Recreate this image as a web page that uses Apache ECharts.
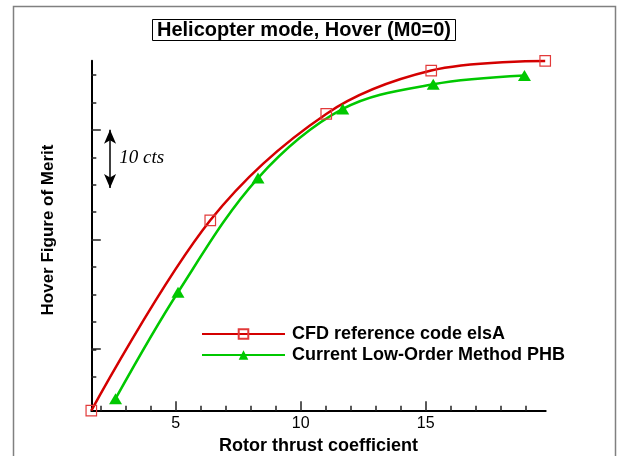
<!DOCTYPE html>
<html>
<head>
<meta charset="utf-8">
<script src="https://cdn.jsdelivr.net/npm/echarts@6/dist/echarts.min.js"></script>
<style>
  html, body { margin: 0; padding: 0; background: #fff; }
  #chart { width: 619px; height: 456px; }
</style>
</head>
<body>
<div id="chart"></div>
<script>
// rotor thrust coefficient (x) and hover figure of merit in counts (y)
const cfdThrust = [1.62, 6.38, 11.02, 15.22, 19.78];
const cfdMerit = [8.8, 43.5, 62.9, 70.8, 72.55];
const phbThrust = [2.59, 5.09, 8.29, 11.68, 15.30, 18.95];
const phbMerit = [11.0, 30.4, 51.2, 63.8, 68.3, 69.9];

const xTickLabels = ['5', '10', '15'];
const seriesNames = ['CFD reference code elsA', 'Current Low-Order Method PHB'];

// 10 cts arrow
const arrowX = 2.37;
const arrowFrom = 49.4;
const arrowTo = 60;

const sans = "'Liberation Sans', Arial, sans-serif";
const pair = (xs, ys) => xs.map((x, i) => [x, ys[i]]);

const chart = echarts.init(document.getElementById('chart'));

const tickX = (grid, min, max, interval, len, labels) => ({
  type: 'value', gridIndex: grid, min: min, max: max, interval: interval,
  axisLine: { show: false },
  splitLine: { show: false },
  axisTick: { show: true, inside: true, length: len, lineStyle: { color: '#222', width: 1.5 } },
  axisLabel: labels ? {
    show: true, margin: 5, color: '#000', fontSize: 16, fontFamily: sans,
    formatter: (v) => xTickLabels.indexOf(String(v)) >= 0 ? String(v) : ''
  } : { show: false }
});

const tickY = (grid, min, max, interval, len) => ({
  type: 'value', gridIndex: grid, min: min, max: max, interval: interval,
  axisLine: { show: false },
  splitLine: { show: false },
  axisTick: { show: true, inside: true, length: len, lineStyle: { color: '#222', width: 1.5 } },
  axisLabel: { show: false }
});

const hidden = (grid) => ({ type: 'value', gridIndex: grid, show: false, min: 0, max: 1 });

const gridBox = (left, right, top, bottom) => ({
  left: left, right: right, top: top, bottom: bottom,
  containLabel: false, outerBoundsMode: 'none'
});

chart.setOption({
  animation: false,
  backgroundColor: '#fff',
  title: {
    text: 'Helicopter mode, Hover (M0=0)',
    left: 152, top: 19,
    padding: [1, 5, 1, 5],
    borderColor: '#000', borderWidth: 1,
    textStyle: { fontFamily: sans, fontSize: 20, fontWeight: 'bold', color: '#000' }
  },
  legend: {
    orient: 'vertical',
    left: 196, top: 320,
    itemWidth: 83, itemHeight: 12, itemGap: 3,
    textStyle: { fontFamily: sans, fontSize: 18, fontWeight: 'bold', color: '#000',
                 padding: [0, 0, 0, 2] },
    data: seriesNames
  },
  graphic: [
    { type: 'rect', shape: { x: 13.5, y: 6.5, width: 602, height: 460 },
      style: { fill: 'none', stroke: '#808080', lineWidth: 1.5 }, silent: true },
    { type: 'text', x: 48, y: 230, rotation: Math.PI / 2,
      style: { text: 'Hover Figure of Merit', fontFamily: sans, fontSize: 17, fontWeight: 'bold',
               fill: '#000', align: 'center', verticalAlign: 'middle' } }
  ],
  grid: [
    gridBox(91.3, 73.3, 60.7, 45.3),
    gridBox(100.7, 93, 60.7, 45.3),
    gridBox(175.7, 193.3, 60.7, 45.3),
    gridBox(91.3, 73.3, 75, 79.3),
    gridBox(91.3, 73.3, 130, 107)
  ],
  xAxis: [
    {
      type: 'value', gridIndex: 0, min: 1.62, max: 19.8,
      name: 'Rotor thrust coefficient', nameLocation: 'middle', nameGap: 26,
      nameTextStyle: { fontFamily: sans, fontSize: 18, fontWeight: 'bold', color: '#000' },
      axisLine: { show: true, lineStyle: { color: '#000', width: 2 } },
      axisTick: { show: false }, axisLabel: { show: false }, splitLine: { show: false }
    },
    tickX(1, 2, 19, 1, 5, false),
    tickX(2, 5, 15, 5, 9.5, true),
    hidden(3),
    hidden(4)
  ],
  yAxis: [
    {
      type: 'value', gridIndex: 0, min: 8.8, max: 72.6,
      axisLine: { show: true, lineStyle: { color: '#000', width: 2 } },
      axisTick: { show: false }, axisLabel: { show: false }, splitLine: { show: false }
    },
    hidden(1),
    hidden(2),
    tickY(3, 15, 70, 5, 5),
    tickY(4, 20, 60, 20, 9.5)
  ],
  series: [
    {
      name: seriesNames[0], type: 'line', xAxisIndex: 0, yAxisIndex: 0,
      data: pair(cfdThrust, cfdMerit),
      smooth: 0.35, clip: false,
      symbol: 'rect', symbolSize: 10.5, showAllSymbol: true,
      lineStyle: { color: '#d40000', width: 2.5 },
      itemStyle: { color: 'rgba(255,255,255,0)', borderColor: '#e23a3a', borderWidth: 1.2 },
      z: 3,
      markLine: {
        silent: true, symbol: ['arrow', 'arrow'], symbolSize: [9, 14],
        lineStyle: { color: '#000', width: 1.5, type: 'solid' },
        label: { show: false },
        data: [[{ coord: [arrowX, arrowFrom] }, { coord: [arrowX, arrowTo] }]]
      },
      markPoint: {
        silent: true, symbol: 'circle', symbolSize: 0,
        label: { show: true, position: 'right', distance: 0, formatter: '10 cts',
                 fontFamily: "'Liberation Serif', 'Times New Roman', serif", fontStyle: 'italic',
                 fontSize: 19, color: '#000' },
        data: [{ coord: [2.74, 54.8] }]
      }
    },
    {
      name: seriesNames[1], type: 'line', xAxisIndex: 0, yAxisIndex: 0,
      data: pair(phbThrust, phbMerit),
      smooth: 0.35, clip: false,
      symbol: 'triangle', symbolSize: [13, 11], showAllSymbol: true,
      lineStyle: { color: '#00c800', width: 2.5 },
      itemStyle: { color: '#00c800' },
      z: 3
    }
  ]
});
</script>
</body>
</html>
